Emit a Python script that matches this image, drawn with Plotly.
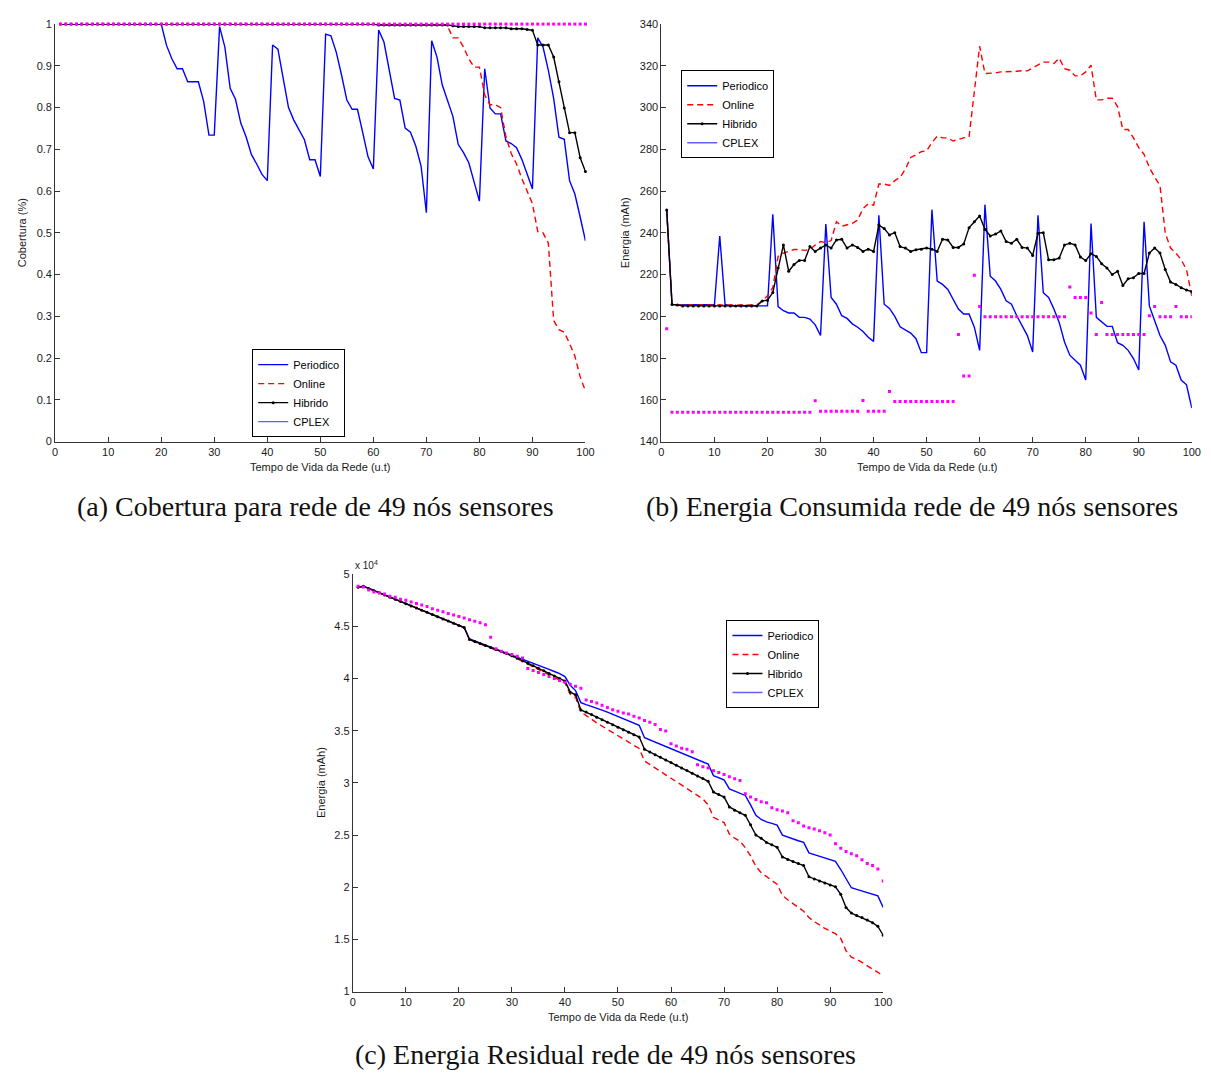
import plotly.graph_objects as go

# Time axis (u.t)
tempo = list(range(1, 101))

# ---------------- (a) Cobertura ----------------
cob_periodico = [
    1.0, 1.0, 1.0, 1.0, 1.0, 1.0, 1.0, 1.0, 1.0, 1.0,
    1.0, 1.0, 1.0, 1.0, 1.0, 1.0, 1.0, 1.0, 1.0, 1.0,
    0.949, 0.917, 0.893, 0.893, 0.862, 0.862, 0.862, 0.815, 0.734, 0.734,
    0.994, 0.945, 0.846, 0.820, 0.763, 0.730, 0.688, 0.665, 0.640, 0.625,
    0.950, 0.940, 0.874, 0.800, 0.770, 0.745, 0.723, 0.675, 0.675, 0.635,
    0.976, 0.972, 0.933, 0.878, 0.818, 0.796, 0.796, 0.740, 0.682, 0.653,
    0.986, 0.957, 0.893, 0.822, 0.818, 0.751, 0.741, 0.708, 0.660, 0.548,
    0.960, 0.921, 0.854, 0.815, 0.779, 0.712, 0.692, 0.668, 0.621, 0.576,
    0.893, 0.799, 0.785, 0.785, 0.720, 0.714, 0.704, 0.676, 0.641, 0.605,
    0.967, 0.945, 0.889, 0.822, 0.729, 0.724, 0.625, 0.593, 0.538, 0.481,
]
cob_online = [
    1.0, 1.0, 1.0, 1.0, 1.0, 1.0, 1.0, 1.0, 1.0, 1.0,
    1.0, 1.0, 1.0, 1.0, 1.0, 1.0, 1.0, 1.0, 1.0, 1.0,
    1.0, 1.0, 1.0, 1.0, 1.0, 1.0, 1.0, 1.0, 1.0, 1.0,
    1.0, 1.0, 1.0, 1.0, 1.0, 1.0, 1.0, 1.0, 1.0, 1.0,
    1.0, 1.0, 1.0, 1.0, 1.0, 1.0, 1.0, 1.0, 1.0, 1.0,
    1.0, 1.0, 1.0, 1.0, 1.0, 1.0, 1.0, 1.0, 1.0, 1.0,
    1.0, 1.0, 1.0, 1.0, 1.0, 1.0, 1.0, 1.0, 1.0, 1.0,
    1.0, 1.0, 1.0, 0.995, 0.967, 0.967, 0.945, 0.917, 0.897, 0.897,
    0.830, 0.807, 0.807, 0.800, 0.730, 0.690, 0.665, 0.630, 0.598, 0.570,
    0.503, 0.500, 0.475, 0.290, 0.268, 0.262, 0.235, 0.205, 0.155, 0.121,
]
cob_hibrido = [
    1.0, 1.0, 1.0, 1.0, 1.0, 1.0, 1.0, 1.0, 1.0, 1.0,
    1.0, 1.0, 1.0, 1.0, 1.0, 1.0, 1.0, 1.0, 1.0, 1.0,
    1.0, 1.0, 1.0, 1.0, 1.0, 1.0, 1.0, 1.0, 1.0, 1.0,
    1.0, 1.0, 1.0, 1.0, 1.0, 1.0, 1.0, 1.0, 1.0, 1.0,
    1.0, 1.0, 1.0, 1.0, 1.0, 1.0, 1.0, 1.0, 1.0, 1.0,
    1.0, 1.0, 1.0, 1.0, 1.0, 1.0, 1.0, 1.0, 1.0, 1.0,
    0.998, 0.998, 0.998, 0.998, 0.998, 0.998, 0.998, 0.998, 0.998, 0.998,
    0.998, 0.998, 0.998, 0.998, 0.996, 0.994, 0.994, 0.994, 0.994, 0.994,
    0.991, 0.991, 0.991, 0.991, 0.991, 0.989, 0.989, 0.989, 0.987, 0.985,
    0.950, 0.950, 0.950, 0.921, 0.862, 0.799, 0.740, 0.740, 0.680, 0.647,
]
cob_cplex = [
    1.0, 1.0, 1.0, 1.0, 1.0, 1.0, 1.0, 1.0, 1.0, 1.0,
    1.0, 1.0, 1.0, 1.0, 1.0, 1.0, 1.0, 1.0, 1.0, 1.0,
    1.0, 1.0, 1.0, 1.0, 1.0, 1.0, 1.0, 1.0, 1.0, 1.0,
    1.0, 1.0, 1.0, 1.0, 1.0, 1.0, 1.0, 1.0, 1.0, 1.0,
    1.0, 1.0, 1.0, 1.0, 1.0, 1.0, 1.0, 1.0, 1.0, 1.0,
    1.0, 1.0, 1.0, 1.0, 1.0, 1.0, 1.0, 1.0, 1.0, 1.0,
    1.0, 1.0, 1.0, 1.0, 1.0, 1.0, 1.0, 1.0, 1.0, 1.0,
    1.0, 1.0, 1.0, 1.0, 1.0, 1.0, 1.0, 1.0, 1.0, 1.0,
    1.0, 1.0, 1.0, 1.0, 1.0, 1.0, 1.0, 1.0, 1.0, 1.0,
    1.0, 1.0, 1.0, 1.0, 1.0, 1.0, 1.0, 1.0, 1.0, 1.0,
]

# ---------------- (b) Energia consumida (mAh) ----------------
cons_periodico = [
    251.0, 205.7, 205.5, 205.5, 205.5, 205.5, 205.5, 205.5, 205.5, 205.7,
    238.5, 205.7, 205.0, 205.0, 205.0, 205.0, 205.0, 205.0, 205.0, 205.0,
    248.9, 204.7, 202.7, 201.6, 201.6, 199.5, 199.5, 198.7, 195.9, 190.8,
    244.2, 209.0, 205.8, 200.3, 199.0, 196.4, 194.8, 192.7, 190.0, 188.0,
    248.4, 205.8, 203.8, 200.0, 195.0, 193.5, 192.0, 189.3, 182.6, 182.6,
    251.1, 216.9, 215.3, 212.9, 208.2, 203.5, 201.1, 201.1, 194.8, 183.7,
    253.5, 219.2, 216.9, 212.9, 207.4, 205.8, 200.3, 195.6, 190.8, 182.9,
    248.4, 211.3, 209.0, 203.5, 197.1, 187.7, 181.4, 179.0, 176.6, 169.5,
    244.5, 199.5, 197.1, 195.2, 195.2, 187.4, 186.1, 183.7, 179.8, 174.3,
    245.3, 205.0, 197.9, 190.8, 186.1, 178.2, 176.6, 169.5, 167.2, 156.1,
]
cons_online = [
    251.0, 205.7, 205.5, 205.5, 205.5, 205.5, 205.5, 205.5, 205.5, 205.5,
    205.5, 205.5, 205.5, 205.5, 205.5, 205.5, 205.5, 205.5, 207.4, 209.8,
    213.7, 228.7, 230.3, 231.0, 232.0, 232.0, 231.6, 232.0, 234.2, 235.8,
    235.3, 236.3, 245.3, 243.2, 243.7, 244.5, 246.1, 251.6, 254.0, 253.2,
    263.4, 263.4, 262.7, 265.0, 266.6, 270.5, 276.1, 277.3, 278.9, 279.2,
    283.2, 286.3, 285.5, 285.5, 284.0, 284.8, 285.5, 285.9, 307.6, 329.4,
    316.3, 316.3, 316.6, 317.1, 317.1, 317.1, 317.4, 317.7, 317.6, 319.0,
    320.3, 321.8, 321.8, 321.1, 323.7, 318.7, 317.9, 315.2, 315.2, 317.1,
    320.3, 303.7, 303.7, 304.5, 304.5, 300.5, 289.5, 289.5, 285.5, 280.8,
    277.6, 271.3, 266.6, 262.7, 239.8, 232.7, 230.3, 227.1, 222.4, 209.8,
]
cons_hibrido = [
    251.0, 205.7, 205.4, 205.0, 205.0, 205.0, 205.0, 205.0, 205.0, 205.0,
    205.0, 205.0, 205.0, 205.0, 205.0, 205.0, 205.0, 205.0, 207.4, 207.7,
    211.4, 223.2, 234.2, 221.6, 224.8, 226.8, 226.8, 233.4, 231.1, 232.7,
    234.2, 232.7, 236.6, 236.9, 232.7, 234.2, 233.0, 231.1, 232.2, 231.1,
    243.7, 242.1, 239.0, 240.1, 233.4, 232.7, 231.1, 231.9, 232.2, 232.7,
    232.2, 231.1, 236.9, 236.6, 233.0, 233.0, 234.7, 242.4, 245.3, 248.1,
    241.7, 238.5, 239.4, 240.9, 235.8, 235.0, 236.9, 233.0, 232.7, 229.2,
    239.8, 240.1, 227.1, 227.1, 227.9, 234.2, 235.0, 234.2, 228.4, 226.7,
    230.0, 228.7, 225.2, 223.2, 220.0, 221.6, 214.8, 218.0, 218.5, 220.5,
    220.5, 230.3, 232.7, 230.3, 222.4, 216.4, 215.3, 213.7, 212.6, 211.8,
]
cons_cplex = [
    194.0, 154.1, 154.1, 154.1, 154.1, 154.1, 154.1, 154.1, 154.1, 154.1,
    154.1, 154.1, 154.1, 154.1, 154.1, 154.1, 154.1, 154.1, 154.1, 154.1,
    154.1, 154.1, 154.1, 154.1, 154.1, 154.1, 154.1, 154.1, 159.6, 154.5,
    154.5, 154.5, 154.5, 154.5, 154.5, 154.5, 154.5, 159.7, 154.5, 154.5,
    154.5, 154.5, 164.0, 159.2, 159.2, 159.2, 159.2, 159.2, 159.2, 159.2,
    159.2, 159.2, 159.2, 159.2, 159.2, 191.3, 171.4, 171.4, 219.7, 204.7,
    199.8, 199.8, 199.8, 199.8, 199.8, 199.8, 199.8, 199.8, 199.8, 199.8,
    199.8, 199.8, 199.8, 199.8, 199.8, 199.8, 214.0, 209.0, 209.0, 209.0,
    201.6, 191.3, 206.6, 191.3, 191.3, 191.3, 191.3, 191.3, 191.3, 191.3,
    191.3, 200.3, 204.7, 199.8, 199.8, 199.8, 204.7, 199.8, 199.8, 199.8,
]

# ---------------- (c) Energia residual (mAh) ----------------
res_periodico = [
    48750, 48850, 48640, 48430, 48220, 48010, 47800, 47600, 47390, 47180,
    46970, 46760, 46550, 46350, 46140, 45930, 45720, 45510, 45300, 45100,
    44900, 43800, 43610, 43420, 43230, 43040, 42850, 42660, 42470, 42280,
    42080, 41880, 41680, 41480, 41280, 41080, 40880, 40680, 40480, 40200,
    39350, 38850, 37700, 37500, 37350, 37180, 36980, 36780, 36580, 36380,
    36170, 35960, 35750, 35530, 34330, 34120, 33910, 33700, 33490, 33280,
    33070, 32860, 32650, 32440, 32230, 32020, 31800, 30700, 30500, 30300,
    29430, 29210, 29000, 28800, 27900, 26900, 26500, 26270, 26120, 25960,
    25000, 24800, 24630, 24460, 24300, 23300, 23130, 22960, 22800, 22640,
    22480, 21700, 20750, 19950, 19790, 19630, 19480, 19320, 19170, 18060,
]
res_online = [
    48750, 48850, 48640, 48430, 48220, 48010, 47800, 47600, 47390, 47180,
    46970, 46760, 46550, 46350, 46140, 45930, 45720, 45510, 45300, 45100,
    44900, 43720, 43530, 43340, 43150, 42960, 42770, 42580, 42380, 42150,
    41900, 41650, 41400, 41150, 40900, 40640, 40380, 40120, 39860, 39600,
    38500, 38200, 36800, 36500, 36120, 35750, 35440, 35130, 34820, 34510,
    34200, 33890, 33580, 33300, 32100, 31770, 31440, 31110, 30780, 30450,
    30120, 29790, 29460, 29130, 28800, 28470, 27900, 26700, 26450, 26200,
    25100, 24700, 24400, 23800, 23000, 22000, 21400, 21000, 20650, 20300,
    19200, 18800, 18450, 18100, 17700, 17100, 16700, 16400, 16050, 15800,
    15550, 15100, 13900, 13300, 13100, 12800, 12450, 12150, 11850, 11500,
]
res_hibrido = [
    48750, 48850, 48640, 48430, 48220, 48010, 47800, 47600, 47390, 47180,
    46970, 46760, 46550, 46350, 46140, 45930, 45720, 45510, 45300, 45100,
    44900, 43750, 43560, 43370, 43180, 42990, 42800, 42600, 42400, 42200,
    41960, 41720, 41480, 41240, 41000, 40750, 40500, 40250, 40000, 39760,
    38700, 38450, 37000, 36800, 36550, 36300, 36060, 35820, 35580, 35340,
    35100, 34860, 34620, 34400, 33220, 32970, 32710, 32460, 32200, 31950,
    31690, 31440, 31180, 30930, 30670, 30420, 30160, 29120, 28880, 28650,
    27700, 27380, 27140, 26900, 26000, 25000, 24690, 24300, 24070, 23840,
    22900, 22650, 22460, 22270, 22080, 21000, 20800, 20600, 20400, 20220,
    20050, 19330, 18060, 17520, 17300, 17100, 16850, 16600, 16250, 15400,
]
res_cplex = [
    48860, 48770, 48500, 48300, 48200, 48100, 47900, 47800, 47600, 47500,
    47350, 47200, 47050, 46900, 46700, 46550, 46400, 46250, 46100, 45950,
    45800, 45650, 45500, 45350, 45170, 43970, 42860, 42610, 42450, 42300,
    42140, 41980, 40970, 40780, 40590, 40400, 40210, 40020, 39830, 39640,
    39450, 39260, 39070, 37960, 37800, 37650, 37450, 37240, 37020, 36860,
    36700, 36600, 36400, 36230, 35980, 35820, 35600, 35130, 34970, 33760,
    33540, 33320, 33220, 33000, 31740, 31550, 31420, 31170, 31000, 30800,
    30600, 30400, 30230, 28960, 28640, 28400, 28200, 28100, 27630, 27440,
    27300, 27130, 26370, 26180, 25870, 25710, 25580, 25420, 25230, 25010,
    24160, 23740, 23430, 23210, 23020, 22640, 22270, 22080, 21750, 20590,
]

res_ticks = [10000, 15000, 20000, 25000, 30000, 35000, 40000, 45000, 50000]
res_ticktext = ["1", "1.5", "2", "2.5", "3", "3.5", "4", "4.5", "5"]

BLUE = "#0000ff"
RED = "#ff0000"
BLACK = "#000000"
MAGENTA = "#ff00ff"
LEGEND_CPLEX = "#6060ff"
SANS = "Liberation Sans, Arial, sans-serif"
SERIF = "Liberation Serif, Times New Roman, serif"

fig = go.Figure()


def add_panel(xa, ya, leg, per, onl, hib, cpx, clip=True):
    common = dict(xaxis=xa, yaxis=ya, legend=leg, cliponaxis=clip)
    fig.add_trace(go.Scatter(x=tempo, y=per, mode="lines", name="Periodico",
                             line=dict(color=BLUE, width=1.4), **common))
    fig.add_trace(go.Scatter(x=tempo, y=onl, mode="lines", name="Online",
                             line=dict(color=RED, width=1.4, dash="6px,4px"), **common))
    fig.add_trace(go.Scatter(x=tempo, y=hib, mode="lines+markers", name="Hibrido",
                             line=dict(color=BLACK, width=1.4),
                             marker=dict(color=BLACK, size=3), **common))
    fig.add_trace(go.Scatter(x=tempo, y=cpx, mode="markers", name="CPLEX",
                             marker=dict(color=MAGENTA, size=3, symbol="square"),
                             showlegend=False, **common))
    # legend key for the CPLEX series
    fig.add_trace(go.Scatter(x=[None], y=[None], mode="lines", name="CPLEX",
                             line=dict(color=LEGEND_CPLEX, width=1.4),
                             xaxis=xa, yaxis=ya, legend=leg))


add_panel("x", "y", "legend", cob_periodico, cob_online, cob_hibrido, cob_cplex, clip=False)
add_panel("x2", "y2", "legend2", cons_periodico, cons_online, cons_hibrido, cons_cplex)
add_panel("x3", "y3", "legend3", res_periodico, res_online, res_hibrido, res_cplex)

W, H = 1211, 1075
axis_style = dict(showgrid=False, zeroline=False, showline=True, linecolor="#333333",
                  linewidth=1, mirror=False, ticks="inside", ticklen=5, tickwidth=1,
                  tickcolor="#333333", tickfont=dict(family=SANS, size=11, color="#1a1a1a"))
x_style = dict(axis_style, range=[0, 100], tick0=0, dtick=10)

ya_dom = [1 - 440.5 / H, 1 - 18.3 / H]
yc_dom = [1 - 996.7 / H, 1 - 574.7 / H]

legend_style = dict(xanchor="left", yanchor="top", bgcolor="white", bordercolor="black",
                    borderwidth=1, font=dict(family=SANS, size=11, color="black"),
                    tracegroupgap=0, itemwidth=30)

fig.update_layout(
    width=W, height=H, margin=dict(l=0, r=0, t=0, b=0),
    paper_bgcolor="white", plot_bgcolor="white",
    xaxis=dict(x_style, domain=[52.7 / W, 588.3 / W], anchor="y"),
    yaxis=dict(axis_style, domain=ya_dom, range=[0, 1], tick0=0, dtick=0.1, anchor="x"),
    xaxis2=dict(x_style, domain=[665 / W, 1200.7 / W], anchor="y2"),
    yaxis2=dict(axis_style, domain=ya_dom, range=[140, 340], tick0=140, dtick=20, anchor="x2"),
    xaxis3=dict(x_style, domain=[353.3 / W, 889 / W], anchor="y3"),
    yaxis3=dict(axis_style, domain=yc_dom, range=[10000, 50000], tickvals=res_ticks,
                ticktext=res_ticktext, anchor="x3"),
    legend=dict(legend_style, x=251.7 / W, y=1 - 347 / H),
    legend2=dict(legend_style, x=685 / W, y=1 - 65 / H),
    legend3=dict(legend_style, x=730.7 / W, y=1 - 621 / H),
)

lab_font = dict(family=SANS, size=11, color="#1a1a1a")
cap_font = dict(family=SERIF, size=28, color="#111111")


def note(text, px, py, font, angle=0, xanchor="center"):
    fig.add_annotation(text=text, x=px / W, y=1 - py / H, xref="paper", yref="paper",
                       showarrow=False, textangle=angle, font=font,
                       xanchor=xanchor, yanchor="middle")


# axis titles
note("Cobertura (%)", 20, 229, lab_font, -90)
note("Energia (mAh)", 629, 229, lab_font, -90)
note("Energia (mAh)", 321, 785, lab_font, -90)
note("Tempo de Vida da Rede (u.t)", 320.5, 466, lab_font)
note("Tempo de Vida da Rede (u.t)", 933, 466, lab_font)
note("Tempo de Vida da Rede (u.t)", 621, 1022, lab_font)
note("x 10<sup>4</sup>", 353, 565, dict(family=SANS, size=10, color="#1a1a1a"), xanchor="left")

# sub-figure captions
note("(a) Cobertura para rede de 49 nós sensores", 315.5, 506, cap_font)
note("(b) Energia Consumida rede de 49 nós sensores", 918.5, 506, cap_font)
note("(c) Energia Residual rede de 49 nós sensores", 608.5, 1060, cap_font)

fig.write_html("out.html")
